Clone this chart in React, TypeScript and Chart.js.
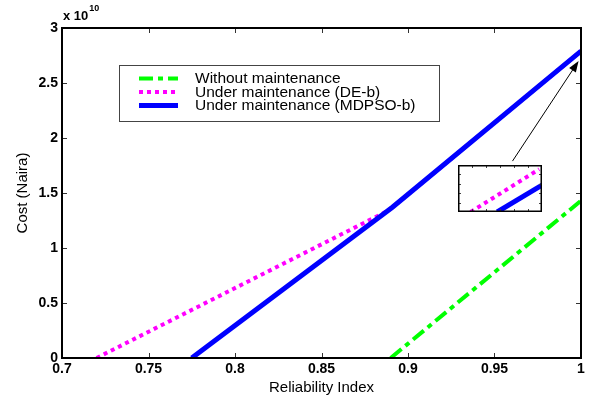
import React, { useEffect, useRef } from "react";
import { Chart, registerables } from "chart.js";

Chart.register(...registerables);

// ---- data (cost values in units of 1e10 Naira) ----
const xTicks = [0.7, 0.75, 0.8, 0.85, 0.9, 0.95, 1];
const yTicks = [0, 0.5, 1, 1.5, 2, 2.5, 3];
const seriesLabels = [
  "Without maintenance",
  "Under maintenance (DE-b)",
  "Under maintenance (MDPSO-b)",
];
const withoutX = [0.89, 1.0];
const withoutY = [0, 1.43];
const deX = [0.72, 0.888, 0.891, 1.0];
const deY = [0, 1.335, 1.37, 2.79];
const mdpsoX = [0.775, 0.891, 1.0];
const mdpsoY = [0, 1.37, 2.79];
const arrowFrom = [0.9604, 1.79];
const arrowTo = [0.9986, 2.7];

// inset (zoom of the top-right end)
const insetXRange = [0.994, 1.0];
const insetYRange = [2.7, 2.8];
const insetXTicks = [0.995, 0.996, 0.997, 0.998, 0.999];
const insetYTicks = [2.72, 2.74, 2.76, 2.78];
const insetDeX = [0.9949, 0.9998];
const insetDeY = [2.7, 2.791];
const insetMdX = [0.9968, 1.0];
const insetMdY = [2.7, 2.757];

const GREEN = "#00ff00";
const MAGENTA = "#ff00ff";
const BLUE = "#0000ff";
const FONT = "'Liberation Sans', Arial, Helvetica, sans-serif";

const pts = (xs: number[], ys: number[]) => xs.map((x, i) => ({ x, y: ys[i] }));

const styles = [
  { color: GREEN, width: 4, dash: [14, 5, 5, 5], order: 2 },
  { color: MAGENTA, width: 4, dash: [4, 4], order: 1 },
  { color: BLUE, width: 5, dash: [] as number[], order: 0 },
];

const framePlugin = {
  id: "frame",
  afterDatasetsDraw(chart: any) {
    const { ctx, chartArea: a, scales } = chart;
    ctx.save();
    ctx.strokeStyle = "#333";
    ctx.lineWidth = 1;
    const tl = 5;
    ctx.beginPath();
    xTicks.forEach((v) => {
      const px = Math.round(scales.x.getPixelForValue(v)) + 0.5;
      ctx.moveTo(px, a.bottom);
      ctx.lineTo(px, a.bottom - tl);
      ctx.moveTo(px, a.top);
      ctx.lineTo(px, a.top + tl);
    });
    yTicks.forEach((v) => {
      const py = Math.round(scales.y.getPixelForValue(v)) + 0.5;
      ctx.moveTo(a.left, py);
      ctx.lineTo(a.left + tl, py);
      ctx.moveTo(a.right, py);
      ctx.lineTo(a.right - tl, py);
    });
    ctx.stroke();
    ctx.strokeStyle = "#000";
    ctx.lineWidth = 2;
    ctx.strokeRect(a.left, a.top, a.right - a.left, a.bottom - a.top);

    // arrow
    const x1 = scales.x.getPixelForValue(arrowFrom[0]);
    const y1 = scales.y.getPixelForValue(arrowFrom[1]);
    const x2 = scales.x.getPixelForValue(arrowTo[0]);
    const y2 = scales.y.getPixelForValue(arrowTo[1]);
    const ang = Math.atan2(y2 - y1, x2 - x1);
    const hl = 11;
    const hw = 4;
    ctx.lineWidth = 1;
    ctx.beginPath();
    ctx.moveTo(x1, y1);
    ctx.lineTo(x2 - Math.cos(ang) * hl * 0.8, y2 - Math.sin(ang) * hl * 0.8);
    ctx.stroke();
    ctx.fillStyle = "#000";
    ctx.beginPath();
    ctx.moveTo(x2, y2);
    ctx.lineTo(
      x2 - Math.cos(ang) * hl - Math.sin(ang) * hw,
      y2 - Math.sin(ang) * hl + Math.cos(ang) * hw
    );
    ctx.lineTo(
      x2 - Math.cos(ang) * hl + Math.sin(ang) * hw,
      y2 - Math.sin(ang) * hl - Math.cos(ang) * hw
    );
    ctx.closePath();
    ctx.fill();

    // exponent label
    ctx.fillStyle = "#000";
    ctx.textBaseline = "alphabetic";
    ctx.textAlign = "left";
    ctx.font = `bold 13px ${FONT}`;
    ctx.fillText("x 10", a.left + 1, 20);
    const w = ctx.measureText("x 10").width;
    ctx.font = `bold 9px ${FONT}`;
    ctx.fillText("10", a.left + 1 + w + 1, 11);

    // legend
    const lx = 119.5, ly = 65.5, lw = 320, lh = 56;
    ctx.fillStyle = "#fff";
    ctx.fillRect(lx, ly, lw, lh);
    ctx.strokeStyle = "#444";
    ctx.lineWidth = 1;
    ctx.strokeRect(lx, ly, lw, lh);
    chart.data.datasets.forEach((ds: any, i: number) => {
      const y = 78.5 + i * 13.5;
      ctx.save();
      ctx.strokeStyle = ds.borderColor;
      ctx.lineWidth = ds.borderWidth;
      ctx.setLineDash(ds.borderDash || []);
      ctx.beginPath();
      ctx.moveTo(139, y);
      ctx.lineTo(178, y);
      ctx.stroke();
      ctx.restore();
      ctx.fillStyle = "#000";
      ctx.font = `15.5px ${FONT}`;
      ctx.textBaseline = "middle";
      ctx.fillText(ds.label, 195, y + 0.5);
    });
    ctx.restore();
  },
};

const insetPlugin = {
  id: "insetFrame",
  afterDatasetsDraw(chart: any) {
    const { ctx, chartArea: a, scales } = chart;
    ctx.save();
    ctx.strokeStyle = "#444";
    ctx.lineWidth = 1;
    const tl = 3;
    ctx.beginPath();
    insetXTicks.forEach((v) => {
      const px = Math.round(scales.x.getPixelForValue(v)) + 0.5;
      ctx.moveTo(px, a.bottom);
      ctx.lineTo(px, a.bottom - tl);
      ctx.moveTo(px, a.top);
      ctx.lineTo(px, a.top + tl);
    });
    insetYTicks.forEach((v) => {
      const py = Math.round(scales.y.getPixelForValue(v)) + 0.5;
      ctx.moveTo(a.left, py);
      ctx.lineTo(a.left + tl, py);
      ctx.moveTo(a.right, py);
      ctx.lineTo(a.right - tl, py);
    });
    ctx.stroke();
    ctx.strokeStyle = "#000";
    ctx.lineWidth = 1.5;
    ctx.strokeRect(a.left + 0.75, a.top + 0.75, a.right - a.left - 1.5, a.bottom - a.top - 1.5);
    ctx.restore();
  },
};

export default function App() {
  const mainRef = useRef<HTMLCanvasElement>(null);
  const insetRef = useRef<HTMLCanvasElement>(null);

  useEffect(() => {
    document.body.style.margin = "0";
    Chart.defaults.font.family = FONT;
    const series = [pts(withoutX, withoutY), pts(deX, deY), pts(mdpsoX, mdpsoY)];
    const main = new Chart(mainRef.current as HTMLCanvasElement, {
      type: "scatter",
      data: {
        datasets: series.map((d, i) => ({
          label: seriesLabels[i],
          data: d,
          order: styles[i].order,
          showLine: true,
          borderColor: styles[i].color,
          backgroundColor: styles[i].color,
          borderWidth: styles[i].width,
          borderDash: styles[i].dash,
          borderCapStyle: "butt",
          pointRadius: 0,
          fill: false,
        })),
      },
      options: {
        animation: false,
        responsive: false,
        events: [],
        layout: { padding: { top: 28, right: 8, left: 0, bottom: 0 } },
        plugins: { legend: { display: false }, tooltip: { enabled: false } },
        scales: {
          x: {
            type: "linear",
            min: 0.7,
            max: 1,
            afterBuildTicks: (s: any) => {
              s.ticks = xTicks.map((v) => ({ value: v }));
            },
            afterFit: (s: any) => {
              s.height = 42;
            },
            grid: { display: false, drawTicks: false },
            border: { display: false },
            ticks: {
              color: "#000",
              padding: 3,
              maxRotation: 0,
              autoSkip: false,
              font: { size: 14, weight: "bold" },
              callback: (v: any) => String(v),
            },
            title: {
              display: true,
              text: "Reliability Index",
              color: "#000",
              font: { size: 15 },
              padding: { top: 0, bottom: 3 },
            },
          },
          y: {
            type: "linear",
            min: 0,
            max: 3,
            afterBuildTicks: (s: any) => {
              s.ticks = yTicks.map((v) => ({ value: v }));
            },
            afterFit: (s: any) => {
              s.width = 62;
            },
            grid: { display: false, drawTicks: false },
            border: { display: false },
            ticks: {
              color: "#000",
              padding: 4,
              autoSkip: false,
              font: { size: 14, weight: "bold" },
              callback: (v: any) => String(v),
            },
            title: {
              display: true,
              text: "Cost (Naira)",
              color: "#000",
              font: { size: 15 },
              padding: { top: 14, bottom: 0 },
            },
          },
        },
      } as any,
      plugins: [framePlugin],
    });

    const insetSeries = [pts(insetDeX, insetDeY), pts(insetMdX, insetMdY)];
    const inset = new Chart(insetRef.current as HTMLCanvasElement, {
      type: "scatter",
      data: {
        datasets: insetSeries.map((d, i) => ({
          label: seriesLabels[i + 1],
          data: d,
          order: styles[i + 1].order,
          showLine: true,
          borderColor: styles[i + 1].color,
          borderWidth: styles[i + 1].width,
          borderDash: styles[i + 1].dash,
          borderCapStyle: "butt",
          pointRadius: 0,
          fill: false,
        })),
      },
      options: {
        animation: false,
        responsive: false,
        events: [],
        layout: { padding: 0 },
        plugins: { legend: { display: false }, tooltip: { enabled: false } },
        scales: {
          x: { type: "linear", min: insetXRange[0], max: insetXRange[1], display: false },
          y: { type: "linear", min: insetYRange[0], max: insetYRange[1], display: false },
        },
      } as any,
      plugins: [insetPlugin],
    });

    return () => {
      main.destroy();
      inset.destroy();
    };
  }, []);

  return (
    <div style={{ position: "relative", width: 589, height: 400, background: "#fff" }}>
      <canvas ref={mainRef} width={589} height={400} style={{ position: "absolute", left: 0, top: 0, width: 589, height: 400 }} />
      <canvas ref={insetRef} width={84} height={47} style={{ position: "absolute", left: 458, top: 165, width: 84, height: 47 }} />
    </div>
  );
}
